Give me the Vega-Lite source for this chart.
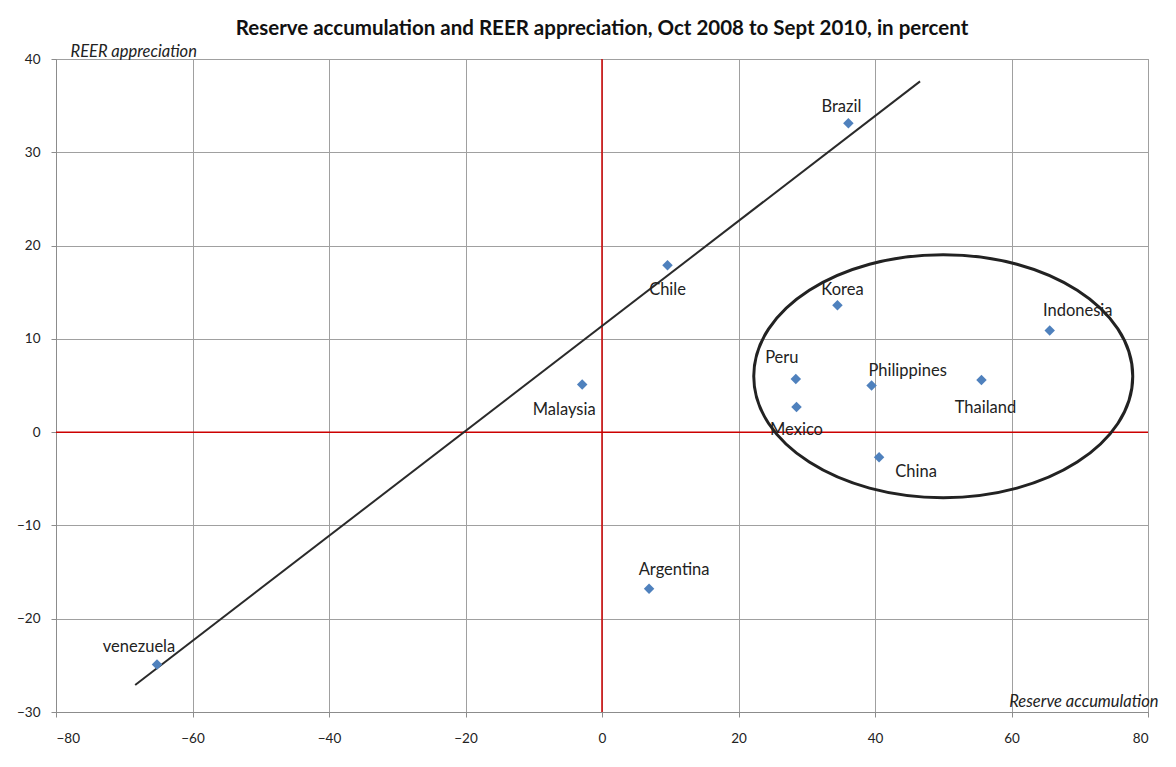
{
  "$schema": "https://vega.github.io/schema/vega-lite/v6.json",
  "width": 1092,
  "height": 653,
  "autosize": {"type": "none"},
  "padding": {"left": 56, "top": 59, "right": 28, "bottom": 55},
  "background": "white",
  "config": {
    "font": "Lato",
    "view": {"stroke": "#8c8c8c", "strokeWidth": 1},
    "axis": {
      "gridColor": "#a0a0a0", "gridWidth": 1, "gridOpacity": 1,
      "domainColor": "#8c8c8c", "tickColor": "#8c8c8c", "tickSize": 5,
      "labelFont": "Lato", "labelFontSize": 13.5, "labelColor": "#222",
      "titleFont": "Lato", "titleFontSize": 16.5, "titleFontWeight": "normal", "titleFontStyle": "italic", "titleColor": "#222"
    }
  },
  "title": {
    "text": "Reserve accumulation and REER appreciation, Oct 2008 to Sept 2010, in percent",
    "font": "Lato", "fontSize": 20.5, "fontWeight": "bold", "color": "#111", "offset": 4, "anchor": "middle"
  },
  "datasets": {
    "countries": [
      {"country": "Brazil", "reserve": 36.1, "reer": 33.1},
      {"country": "Chile", "reserve": 9.6, "reer": 17.9},
      {"country": "Korea", "reserve": 34.5, "reer": 13.6},
      {"country": "Indonesia", "reserve": 65.6, "reer": 10.9},
      {"country": "Peru", "reserve": 28.4, "reer": 5.7},
      {"country": "Philippines", "reserve": 39.5, "reer": 5.0},
      {"country": "Thailand", "reserve": 55.6, "reer": 5.6},
      {"country": "Mexico", "reserve": 28.5, "reer": 2.7},
      {"country": "China", "reserve": 40.6, "reer": -2.7},
      {"country": "Malaysia", "reserve": -2.9, "reer": 5.1},
      {"country": "Argentina", "reserve": 6.9, "reer": -16.8},
      {"country": "venezuela", "reserve": -65.2, "reer": -24.9}
    ],
    "trend": [
      {"reserve": -68.4, "reer": -27.1},
      {"reserve": 46.6, "reer": 37.6}
    ],
    "zeroV": [{"reserve": 0, "reer": -30, "reer2": 40}],
    "zeroH": [{"reer": 0, "reserve": -80, "reserve2": 80}],
    "circle": [{"reserve": 50.0, "reer": 6.0}]
  },
  "layer": [
    {
      "data": {"name": "countries"},
      "mark": {"type": "point", "opacity": 0},
      "encoding": {
        "x": {"field": "reserve", "type": "quantitative", "scale": {"domain": [-80, 80], "nice": false},
          "axis": {"values": [-80, -60, -40, -20, 0, 20, 40, 60, 80], "title": "Reserve accumulation", "titleAngle": 0, "titleAlign": "right", "titleBaseline": "alphabetic", "titleX": 1102, "titleY": -6, "labelPadding": 14}},
        "y": {"field": "reer", "type": "quantitative", "scale": {"domain": [-30, 40], "nice": false},
          "axis": {"values": [-30, -20, -10, 0, 10, 20, 30, 40], "title": "REER appreciation", "titleAngle": 0, "titleAlign": "left", "titleBaseline": "alphabetic", "titleX": 14, "titleY": -3, "labelPadding": 11}}
      }
    },
    {
      "data": {"name": "zeroV"},
      "mark": {"type": "rule", "color": "#cc0000", "strokeWidth": 1.5},
      "encoding": {"x": {"field": "reserve", "type": "quantitative"}, "y": {"field": "reer", "type": "quantitative"}, "y2": {"field": "reer2"}}
    },
    {
      "data": {"name": "zeroH"},
      "mark": {"type": "rule", "color": "#cc0000", "strokeWidth": 1.5},
      "encoding": {"y": {"field": "reer", "type": "quantitative"}, "x": {"field": "reserve", "type": "quantitative"}, "x2": {"field": "reserve2"}}
    },
    {
      "data": {"name": "trend"},
      "mark": {"type": "line", "color": "#2a2a2a", "strokeWidth": 2},
      "encoding": {"x": {"field": "reserve", "type": "quantitative"}, "y": {"field": "reer", "type": "quantitative"}}
    },
    {
      "data": {"name": "circle"},
      "mark": {"type": "point", "filled": false, "stroke": "#222", "strokeWidth": 3, "opacity": 1, "size": 143641,
        "shape": "M -1 0 C -1 -0.354 -0.552 -0.641 0 -0.641 C 0.552 -0.641 1 -0.354 1 0 C 1 0.354 0.552 0.641 0 0.641 C -0.552 0.641 -1 0.354 -1 0 Z"},
      "encoding": {"x": {"field": "reserve", "type": "quantitative"}, "y": {"field": "reer", "type": "quantitative"}}
    },
    {
      "data": {"name": "countries"},
      "mark": {"type": "point", "shape": "diamond", "filled": true, "color": "#4f81bd", "opacity": 1, "size": 110},
      "encoding": {"x": {"field": "reserve", "type": "quantitative"}, "y": {"field": "reer", "type": "quantitative"}}
    },
    {
      "data": {"name": "countries"},
      "encoding": {
        "x": {"field": "reserve", "type": "quantitative"},
        "y": {"field": "reer", "type": "quantitative"},
        "text": {"field": "country"}
      },
      "layer": [
        {"transform": [{"filter": "datum.country === 'Brazil'"}], "mark": {"type": "text", "fontSize": 16.5, "color": "#222", "dx": -7, "dy": -16}},
        {"transform": [{"filter": "datum.country === 'Chile'"}], "mark": {"type": "text", "fontSize": 16.5, "color": "#222", "dx": 0, "dy": 25}},
        {"transform": [{"filter": "datum.country === 'Korea'"}], "mark": {"type": "text", "fontSize": 16.5, "color": "#222", "dx": 5, "dy": -15}},
        {"transform": [{"filter": "datum.country === 'Indonesia'"}], "mark": {"type": "text", "fontSize": 16.5, "color": "#222", "dx": 28, "dy": -19}},
        {"transform": [{"filter": "datum.country === 'Peru'"}], "mark": {"type": "text", "fontSize": 16.5, "color": "#222", "dx": -14, "dy": -21}},
        {"transform": [{"filter": "datum.country === 'Philippines'"}], "mark": {"type": "text", "fontSize": 16.5, "color": "#222", "dx": 36, "dy": -15}},
        {"transform": [{"filter": "datum.country === 'Thailand'"}], "mark": {"type": "text", "fontSize": 16.5, "color": "#222", "dx": 4, "dy": 28}},
        {"transform": [{"filter": "datum.country === 'Mexico'"}], "mark": {"type": "text", "fontSize": 16.5, "color": "#222", "dx": 0, "dy": 23}},
        {"transform": [{"filter": "datum.country === 'China'"}], "mark": {"type": "text", "fontSize": 16.5, "color": "#222", "dx": 37, "dy": 15}},
        {"transform": [{"filter": "datum.country === 'Malaysia'"}], "mark": {"type": "text", "fontSize": 16.5, "color": "#222", "dx": -18, "dy": 25}},
        {"transform": [{"filter": "datum.country === 'Argentina'"}], "mark": {"type": "text", "fontSize": 16.5, "color": "#222", "dx": 25, "dy": -19}},
        {"transform": [{"filter": "datum.country === 'venezuela'"}], "mark": {"type": "text", "fontSize": 16.5, "color": "#222", "dx": -18, "dy": -17}}
      ]
    }
  ]
}
